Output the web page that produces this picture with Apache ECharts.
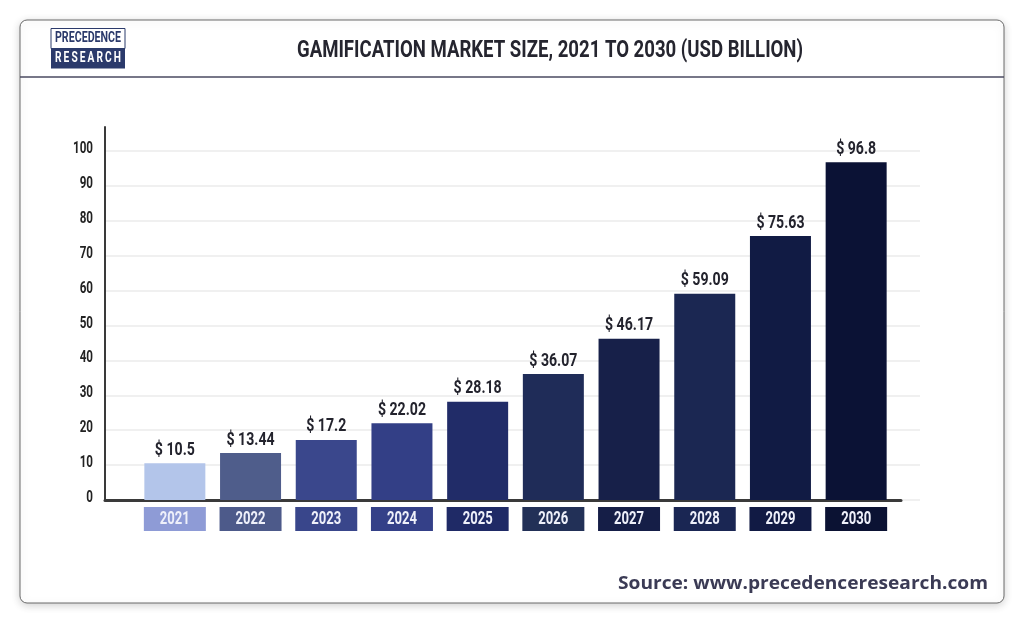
<!DOCTYPE html>
<html>
<head>
<meta charset="utf-8">
<script src="https://cdn.jsdelivr.net/npm/echarts@6/dist/echarts.min.js"></script>
<style>
html,body{margin:0;padding:0;background:#ffffff;}
#c{width:1024px;height:623px;}
</style>
</head>
<body>
<div id="c"></div>
<script>
const categories = ['2021','2022','2023','2024','2025','2026','2027','2028','2029','2030'];
const values = [10.5, 13.44, 17.2, 22.02, 28.18, 36.07, 46.17, 59.09, 75.63, 96.8];
const barColors = ['#b3c5ea','#4f5d8b','#3a478c','#333f86','#212c68','#1f2c58','#172049','#1b2752','#111b44','#0b1235'];
const boxColors = ['#8e9bd6','#4d5a8a','#39468b','#344088','#1f2a66','#223057','#151e47','#1a2653','#111a44','#0b1233'];
const yTicks = [0,10,20,30,40,50,60,70,80,90,100];
const titleText = 'GAMIFICATION MARKET SIZE, 2021 TO 2030 (USD BILLION)';
const sourceText = 'Source: www.precedenceresearch.com';

// text-width helper used to squeeze a regular font into a condensed look
const mctx = document.createElement('canvas').getContext('2d');
function tw(text, font){ mctx.font = font; return mctx.measureText(text).width; }
const F_TITLE = 'bold 24px Roboto';
const F_BAR = 'bold 18px Roboto';
const F_Y = 'bold 16px Roboto';
const F_YEAR = 'bold 19px Roboto';
const F_LOGO = 'bold 14px Roboto';
const F_SRC = 'bold 17px "Open Sans"';
const sBar = 40 / tw('$ 10.5', F_BAR);
const sY = 20 / tw('100', F_Y);
const sYear = 30 / tw('2021', F_YEAR);

const chart = echarts.init(document.getElementById('c'));
chart.setOption({
  backgroundColor:'#ffffff',
  animation:false,
  graphic:[
    {type:'rect', z:-10, shape:{x:20,y:20,width:984,height:583,r:7},
     style:{fill:'#ffffff', stroke:'#6a6a6a', lineWidth:1, shadowBlur:8, shadowColor:'rgba(0,0,0,0.18)', shadowOffsetY:2}},
    {type:'line', z:-5, shape:{x1:20,y1:77,x2:1004,y2:77}, style:{stroke:'#4a4a60', lineWidth:1.5}},
    {type:'rect', shape:{x:51,y:28.5,width:74,height:20}, style:{fill:'#ffffff', stroke:'#2b3a6b', lineWidth:1}},
    {type:'rect', shape:{x:51,y:48.5,width:74,height:20}, style:{fill:'#2b3a6b'}},
    {type:'text', x:88, y:38.5, scaleX:66/tw('PRECEDENCE',F_LOGO),
     style:{text:'PRECEDENCE', fill:'#2b3a6b', font:F_LOGO, align:'center', verticalAlign:'middle'}},
    {type:'text', x:88, y:58.5, scaleX:66/tw('R\u2009E\u2009S\u2009E\u2009A\u2009R\u2009C\u2009H',F_LOGO),
     style:{text:'R\u2009E\u2009S\u2009E\u2009A\u2009R\u2009C\u2009H', fill:'#ffffff', font:F_LOGO, align:'center', verticalAlign:'middle'}},
    {type:'text', x:550, y:50.5, scaleX:506/tw(titleText,F_TITLE),
     style:{text:titleText, fill:'#25252f', font:F_TITLE, align:'center', verticalAlign:'middle'}},
    {type:'text', x:988, y:584, scaleX:370/tw(sourceText,F_SRC),
     style:{text:sourceText, fill:'#3b3b55', font:F_SRC, align:'right', verticalAlign:'middle'}}
  ],
  grid:[
    {left:105, right:104, top:151, bottom:123},
    {left:105, right:123, top:127, bottom:123},
    {left:137, right:130, top:151, bottom:123}
  ],
  xAxis:[
    {gridIndex:0, type:'category', data:categories, show:false},
    {gridIndex:1, type:'category', data:categories, axisLine:{show:true, lineStyle:{color:'#3a3a3a', width:3}},
     axisTick:{show:false}, axisLabel:{show:false}},
    {gridIndex:2, type:'category', data:categories, axisLine:{show:false}, axisTick:{show:false}, axisLabel:{show:false}}
  ],
  yAxis:[
    {gridIndex:0, type:'value', min:0, max:100, interval:10,
     axisLine:{show:false}, axisTick:{show:false}, axisLabel:{show:false},
     splitLine:{show:true, lineStyle:{color:'#ebebeb', width:1.5}}},
    {gridIndex:1, type:'value', min:0, max:1, axisLine:{show:true, lineStyle:{color:'#3a3a3a', width:2}},
     axisTick:{show:false}, axisLabel:{show:false}, splitLine:{show:false}},
    {gridIndex:2, type:'value', min:0, max:100, show:false, splitLine:{show:false}}
  ],
  series:[
    {
      type:'bar', xAxisIndex:2, yAxisIndex:2, barWidth:61,
      data:values.map((v,i)=>({value:v, itemStyle:{color:barColors[i]}}))
    },
    { // bar value labels
      type:'custom', xAxisIndex:2, yAxisIndex:2, clip:false, z:5,
      data:values.map((v,i)=>[i, v]),
      renderItem:(params, api)=>{
        const p = api.coord([api.value(0), api.value(1)]);
        return {type:'text', x:p[0], y:p[1]-13, scaleX:sBar,
          style:{text:'$ '+values[params.dataIndex], font:F_BAR, fill:'#23232d', align:'center', verticalAlign:'middle'}};
      }
    },
    { // year boxes under the axis
      type:'custom', xAxisIndex:2, yAxisIndex:2, clip:false, z:5,
      data:categories.map((c,i)=>[i, 0]),
      renderItem:(params, api)=>{
        const i = params.dataIndex;
        const p = api.coord([api.value(0), 0]);
        return {type:'group', children:[
          {type:'rect', shape:{x:p[0]-31, y:p[1]+7, width:62, height:24}, style:{fill:boxColors[i]}},
          {type:'text', x:p[0], y:p[1]+19.5, scaleX:sYear,
           style:{text:categories[i], font:F_YEAR, fill:'#eef0fa', align:'center', verticalAlign:'middle'}}
        ]};
      }
    },
    { // y tick labels
      type:'custom', xAxisIndex:0, yAxisIndex:0, clip:false, z:5,
      data:yTicks.map(v=>[0, v]),
      renderItem:(params, api)=>{
        const p = api.coord([0, api.value(1)]);
        return {type:'text', x:params.coordSys.x-12, y:p[1]-2, scaleX:sY,
          style:{text:String(yTicks[params.dataIndex]), font:F_Y, fill:'#222', align:'right', verticalAlign:'middle'}};
      }
    }
  ]
});
</script>
</body>
</html>
